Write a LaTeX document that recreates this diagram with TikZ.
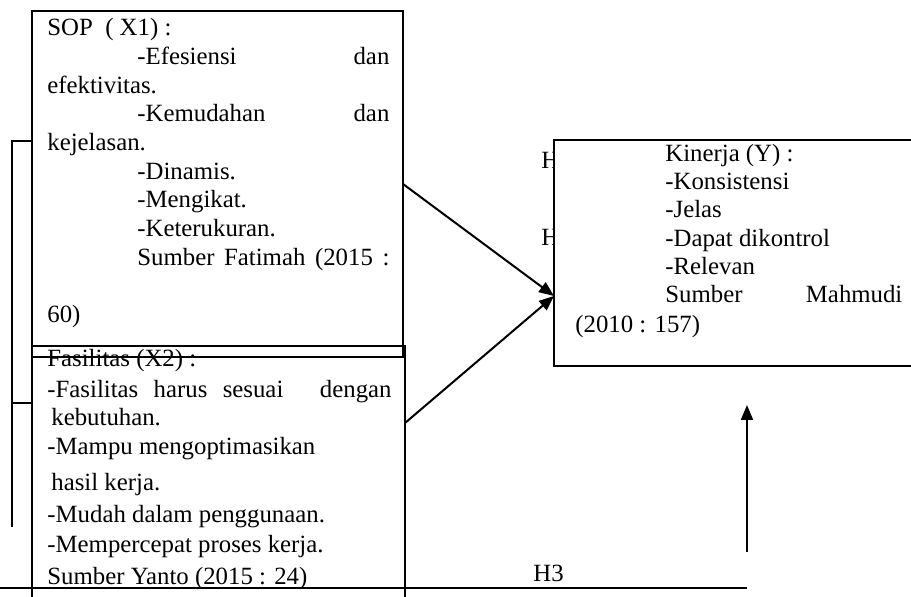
\documentclass[tikz,border=0pt]{standalone}
\usepackage{fontspec}
\setmainfont{Liberation Serif}
\usepackage{tikz}
\usetikzlibrary{arrows.meta,positioning}
\tikzset{
  model diagram/.style={
    x=0.5pt,
    y=-0.5pt,
    font=\fontsize{12.4pt}{14.5pt}\selectfont,
    >={Triangle[length=7.5pt,width=6pt]},
    line join=miter
  },
  framebox/.style={
    draw=black,
    line width=1pt,
    inner sep=0pt,
    outer sep=0pt,
    anchor=north west
  },
  linetext/.style={
    anchor=base west,
    inner sep=0pt
  },
  endword/.style={
    anchor=base east,
    inner sep=0pt
  },
  flowarrow/.style={
    ->,
    draw=black,
    line width=1pt
  },
  thinline/.style={
    draw=black,
    line width=0.8pt
  }
}

\begin{document}
\begin{tikzpicture}[model diagram]
\useasboundingbox (0,0) rectangle (911,597);
\clip (0,0) rectangle (911,597);

% variable boxes
\node[framebox, minimum width=185.5pt, minimum height=173pt] (sop) at (32,11) {};
\node[framebox, minimum width=186.5pt, minimum height=130pt] (fas) at (32,346) {};

% hypothesis labels, partly hidden behind the Y box
\node[linetext] (h1) at (541,169) {H1};
\node[linetext] (h2) at (541,246) {H2};
\node[framebox, fill=white, minimum width=186pt, minimum height=113pt] (kin) at (554,140) {};

% SOP (X1)
\node[linetext] (x1a) at (47,36) {SOP\ \ ( X1) :};
\node[linetext] (x1b) at (137,65) {\makebox[126pt][s]{-Efesiensi dan}};
\node[linetext] (x1c) at (47,94) {efektivitas.};
\node[linetext] (x1d) at (137,122) {\makebox[126pt][s]{-Kemudahan dan}};
\node[linetext] (x1e) at (47,151) {kejelasan.};
\node[linetext] (x1f) at (137,180) {-Dinamis.};
\node[linetext] (x1g) at (137,208) {-Mengikat.};
\node[linetext] (x1h) at (137,237) {-Keterukuran.};
\node[linetext] (x1i) at (137,266) {\makebox[126pt][s]{Sumber Fatimah (2015 :}};
\node[linetext] (x1j) at (47,323) {60)};

% Fasilitas (X2)
\node[linetext] (x2a) at (47,367) {Fasilitas (X2) :};
\node[linetext] (x2b) at (47,398) {\makebox[118pt][s]{-Fasilitas harus sesuai}};
\node[endword] (x2b2) at (392,398) {dengan};
\node[linetext] (x2c) at (51,426) {kebutuhan.};
\node[linetext] (x2d) at (47,455) {-Mampu mengoptimasikan};
\node[linetext] (x2e) at (51,491) {hasil kerja.};
\node[linetext] (x2f) at (47,523) {-Mudah dalam penggunaan.};
\node[linetext] (x2g) at (47,553) {-Mempercepat proses kerja.};
\node[linetext] (x2h) at (47,585) {Sumber Yanto (2015 : 24)};

% Kinerja (Y)
\node[linetext] (ya) at (665,162) {Kinerja (Y) :};
\node[linetext] (yb) at (665,190) {-Konsistensi};
\node[linetext] (yc) at (665,218) {-Jelas};
\node[linetext] (yd) at (665,247) {-Dapat dikontrol};
\node[linetext] (ye) at (665,275) {-Relevan};
\node[linetext] (yf) at (665,303) {\makebox[118.5pt][s]{Sumber Mahmudi}};
\node[linetext] (yg) at (575,333) {(2010 : 157)};

\node[linetext] (h3) at (533,582) {H3};

\coordinate (hub) at (554,296);
\coordinate (fasout) at (405,423);
\coordinate (brtop) at (12,141);
\coordinate (brmid) at (12,403);
\coordinate (brbot) at (12,527);
\coordinate (baseL) at (0,588);
\coordinate (baseR) at (747,588);
\coordinate (h3foot) at (747,552);
\coordinate (h3head) at (747,405);

\draw[flowarrow] (sop.east) -- (hub);
\draw[flowarrow] (fasout) -- (hub);
\draw[flowarrow] (h3foot) -- (h3head);
\draw[thinline] (sop.west |- brtop) -- (brtop) -- (brbot);
\draw[thinline] (brmid) -- (fas.west |- brmid);
\draw[thinline] (baseL) -- (baseR);
\end{tikzpicture}
\end{document}
